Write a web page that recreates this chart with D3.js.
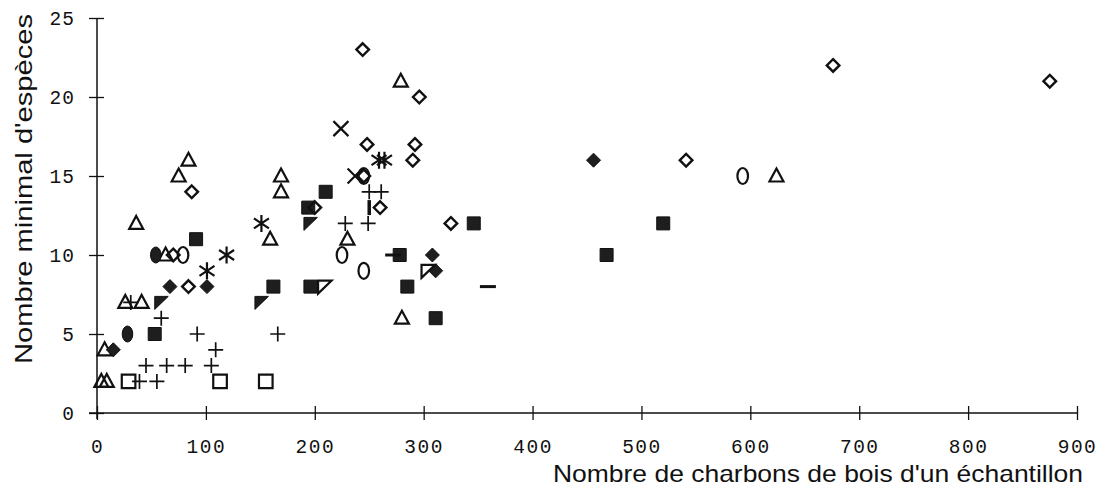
<!DOCTYPE html>
<html>
<head>
<meta charset="utf-8">
<script src="https://cdn.jsdelivr.net/npm/d3@7"></script>
<style>
	body { margin: 0; background: #fff; }
	text { fill: #111; }
</style>
</head>
<body>
<svg id="chart" width="1118" height="501"></svg>
<script>
// valeurs, [charbons, especes]
var xTicks = [0, 100, 200, 300, 400, 500, 600, 700, 800, 900];
var yTicks = [0, 5, 10, 15, 20, 25];

var openDiamond = [[87, 14], [70, 10], [84, 8], [200, 13], [245, 15], [248, 17], [244, 23],
	[296, 20], [292, 17], [290, 16], [260, 13], [325, 12], [541, 16], [676, 22], [875, 21]];
var filledDiamond = [[15, 4], [67, 8], [101, 8], [308, 10], [311, 9], [456, 16]];
var openTriangle = [[75, 15], [84, 16], [36, 12], [63, 10], [26, 7], [41, 7], [7, 4], [4, 2], [9, 2],
	[169, 15], [169, 14], [159, 11], [230, 11], [279, 21], [280, 6], [624, 15]];
var filledSquare = [[91, 11], [53, 5], [162, 8], [196, 8], [210, 14], [194, 13], [278, 10],
	[285, 8], [311, 6], [346, 12], [468, 10], [520, 12]];
var openSquare = [[29, 2], [113, 2], [155, 2]];
var plus = [[59, 6], [92, 5], [109, 4], [45, 3], [64, 3], [81, 3], [105, 3], [39, 2], [55, 2],
	[166, 5], [228, 12], [249, 12], [250, 14], [261, 14], [31, 7]];
var asterisk = [[119, 10], [101, 9], [151, 12], [259, 16], [264, 16]];
var cross = [[224, 18], [237, 15]];
var openEllipse = [[79, 10], [225, 10], [245, 9], [245, 15], [593, 15]];
var filledEllipse = [[54, 10], [28, 5]];
var filledCorner = [[59, 7], [151, 7], [196, 12]];
var openCorner = [[209, 8], [304, 9]];
var dash = [[272, 10], [359, 8]];
var bar = [[250, 13]];

var shapes = {
	diamond: 'M0,-6.3L6.3,0L0,6.3L-6.3,0Z',
	fdiamond: 'M0,-7L7,0L0,7L-7,0Z',
	triangle: 'M0,-7.5L7,5.5L-7,5.5Z',
	square: 'M-6.5,-6.5H6.5V6.5H-6.5Z',
	bigSquare: 'M-6.8,-6.8H6.8V6.8H-6.8Z',
	plus: 'M-7.5,0H7.5M0,-7.5V7.5',
	asterisk: 'M0,-8.5V8.5M-7.5,-5L7.5,5M7.5,-5L-7.5,5',
	cross: 'M-7.5,-7.5L7.5,7.5M7.5,-7.5L-7.5,7.5',
	ellipse: 'M-5.3,0A5.3,8 0 1,0 5.3,0A5.3,8 0 1,0 -5.3,0',
	corner: 'M-6.5,-6H7L-6.5,7Z',
	dash: 'M-8,0H8',
	bar: 'M0,-7.5V7.5'
};

var series = [
	{data: openTriangle, shape: 'triangle', fill: 'none', sw: 2.2},
	{data: openSquare, shape: 'bigSquare', fill: 'none', sw: 2.2},
	{data: filledSquare, shape: 'square', fill: '#1e1e1e', sw: 1},
	{data: openDiamond, shape: 'diamond', fill: 'none', sw: 2.4},
	{data: filledDiamond, shape: 'fdiamond', fill: '#1e1e1e', sw: 1},
	{data: plus, shape: 'plus', fill: 'none', sw: 1.7},
	{data: asterisk, shape: 'asterisk', fill: 'none', sw: 2.2},
	{data: cross, shape: 'cross', fill: 'none', sw: 2.2},
	{data: openEllipse, shape: 'ellipse', fill: 'none', sw: 2.2},
	{data: filledEllipse, shape: 'ellipse', fill: '#1e1e1e', sw: 1},
	{data: filledCorner, shape: 'corner', fill: '#1e1e1e', sw: 1},
	{data: openCorner, shape: 'corner', fill: 'none', sw: 2.2},
	{data: dash, shape: 'dash', fill: 'none', sw: 3},
	{data: bar, shape: 'bar', fill: 'none', sw: 3.5}
];

var svg = d3.select('#chart');

var x = d3.scaleLinear().domain([0, 900]).range([97, 1077]);
var y = d3.scaleLinear().domain([0, 25]).range([413, 18]);

// axe x
var xAxis = d3.axisBottom(x)
	.tickValues(xTicks)
	.tickSizeInner(7)
	.tickSizeOuter(0)
	.tickPadding(19);
var gx = svg.append('g')
	.attr('transform', 'translate(0,' + y(0) + ')')
	.call(xAxis);
gx.select('.domain').remove();
gx.append('line')
	.attr('x1', 89).attr('x2', x(900))
	.attr('stroke', '#111').attr('stroke-width', 1.5);
gx.selectAll('.tick line')
	.attr('y1', -7)
	.attr('stroke', '#111').attr('stroke-width', 1.3);
gx.selectAll('.tick text')
	.attr('font-family', '"Liberation Mono", monospace')
	.attr('font-size', 19.5)
	.attr('letter-spacing', 1.5)
	.attr('fill', '#111');

// axe y
var yAxis = d3.axisLeft(y)
	.tickValues(yTicks)
	.tickSizeInner(8)
	.tickSizeOuter(0)
	.tickPadding(14);
var gy = svg.append('g')
	.attr('transform', 'translate(' + x(0) + ',0)')
	.call(yAxis);
gy.select('.domain').remove();
gy.append('line')
	.attr('y1', y(25)).attr('y2', y(0) + 6)
	.attr('stroke', '#111').attr('stroke-width', 1.5);
gy.selectAll('.tick line')
	.attr('x2', 7)
	.attr('x1', -8)
	.attr('stroke', '#111').attr('stroke-width', 1.3);
gy.selectAll('.tick text')
	.attr('font-family', '"Liberation Mono", monospace')
	.attr('font-size', 19.5)
	.attr('letter-spacing', 1)
	.attr('fill', '#111');

// titres
svg.append('text')
	.attr('x', 1083)
	.attr('y', 482)
	.attr('text-anchor', 'end')
	.attr('font-family', '"Liberation Sans", Arial, sans-serif')
	.attr('font-size', 24)
	.attr('textLength', 530)
	.attr('lengthAdjust', 'spacingAndGlyphs')
	.text("Nombre de charbons de bois d'un échantillon");

svg.append('text')
	.attr('transform', 'translate(32,189) rotate(-90)')
	.attr('text-anchor', 'middle')
	.attr('font-family', '"Liberation Sans", Arial, sans-serif')
	.attr('font-size', 24)
	.attr('textLength', 350)
	.attr('lengthAdjust', 'spacingAndGlyphs')
	.text("Nombre minimal d'espèces");

// points
series.forEach(function(s) {
	svg.append('g').selectAll('path')
		.data(s.data)
		.enter().append('path')
		.attr('d', shapes[s.shape])
		.attr('transform', function(d) { return 'translate(' + x(d[0]) + ',' + y(d[1]) + ')'; })
		.attr('fill', s.fill)
		.attr('stroke', '#111')
		.attr('stroke-width', s.sw)
		.attr('stroke-linejoin', 'miter');
});
</script>
</body>
</html>
